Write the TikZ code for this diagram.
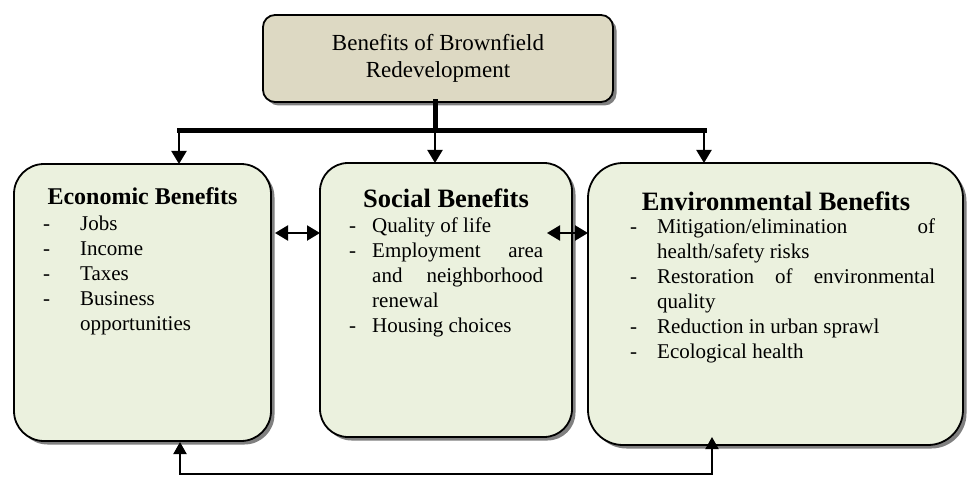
\documentclass[tikz,border=0pt]{standalone}
\usepackage{fontspec}
\setmainfont{Liberation Serif}
\usetikzlibrary{shadows,arrows.meta}
\definecolor{boxgreen}{HTML}{EBF1DE}
\definecolor{boxtan}{HTML}{DDD9C3}
\newcommand\bitem[2]{\hangindent=#1\hangafter=1\noindent\makebox[#1][l]{-}#2\par}
\begin{document}
\begin{tikzpicture}[x=1pt,y=-1pt,
  panel/.style={draw=black, line width=1.8pt, fill=boxgreen, inner sep=0pt, outer sep=0pt,
    drop shadow={shadow xshift=3.5pt, shadow yshift=-3.5pt, fill=black!50, opacity=1}},
  titlebox/.style={panel, fill=boxtan, align=center, font=\fontsize{23}{27}\selectfont},
  headtext/.style={anchor=base, inner sep=0pt, font=\fontsize{26.5}{30}\selectfont\bfseries},
  bodytext/.style={anchor=base west, inner sep=0pt, align=justify,
    font=\fontsize{21}{25}\selectfont,
    execute at begin node={\hyphenpenalty=10000\exhyphenpenalty=10000\tolerance=10000}},
  bar/.style={line width=5pt, line cap=rect},
  drop/.style={line width=2pt, -{Triangle[length=13pt,width=15pt]}},
  dbl/.style={line width=2.2pt, {Triangle[length=13pt,width=15pt]}-{Triangle[length=13pt,width=15pt]}},
  loopline/.style={line width=2pt, {Triangle[length=12pt,width=13pt]}-{Triangle[length=12pt,width=13pt]}}
]
\useasboundingbox (0,0) rectangle (969,484);

% boxes
\node[titlebox, rounded corners=12pt, minimum width=350pt, minimum height=87pt] (top) at (438,58.5)
  {Benefits of Brownfield\\Redevelopment};
\node[panel, rounded corners=30pt, minimum width=257pt, minimum height=277pt] (econ) at (142.5,302.5) {};
\node[panel, rounded corners=28pt, minimum width=252pt, minimum height=274pt] (soc) at (446,300) {};
\node[panel, rounded corners=35pt, minimum width=375pt, minimum height=282pt] (env) at (775.5,304) {};

% headings
\node[headtext, font=\fontsize{24}{28}\selectfont\bfseries] (econH) at (142.5,204) {Economic Benefits};
\node[headtext] (socH) at (446,207) {Social Benefits};
\node[headtext] (envH) at (776,210) {Environmental Benefits};

% bodies
\node[bodytext, text width=207pt] (econB) at (43,230)
  {\bitem{37pt}{Jobs}\bitem{37pt}{Income}\bitem{37pt}{Taxes}\bitem{37pt}{Business opportunities}};
\node[bodytext, text width=194pt] (socB) at (349,232)
  {\bitem{23pt}{Quality of life}\bitem{23pt}{Employment area and neighborhood renewal}\bitem{23pt}{Housing choices}};
\node[bodytext, text width=305pt] (envB) at (630,233)
  {\bitem{27pt}{Mitigation/elimination of health/safety risks}\bitem{27pt}{Restoration of environmental quality}\bitem{27pt}{Reduction in urban sprawl}\bitem{27pt}{Ecological health}};

% top connectors
\coordinate (bus) at (435,130.5);
\coordinate (busL) at (179,130.5);
\coordinate (busR) at (704,130.5);
\draw[bar] (top.south -| bus) -- (bus);
\draw[bar] (busL) -- (busR);
\draw[drop] (busL) -- (econ.north -| busL);
\draw[drop] (bus) -- (soc.north -| bus);
\draw[drop] (busR) -- (env.north -| busR);

% side double arrows
\coordinate (ya) at (0,233);
\draw[dbl] ([xshift=4pt]econ.east |- ya) -- (soc.west |- ya);
\draw[dbl] ([xshift=-25pt]soc.east |- ya) -- (env.west |- ya);

% bottom loop
\coordinate (bl) at (180,474);
\coordinate (br) at (712,474);
\draw[loopline] ([yshift=-1pt]econ.south -| bl) -- (bl) -- (br) -- ([yshift=8pt]env.south -| br);
\end{tikzpicture}
\end{document}
